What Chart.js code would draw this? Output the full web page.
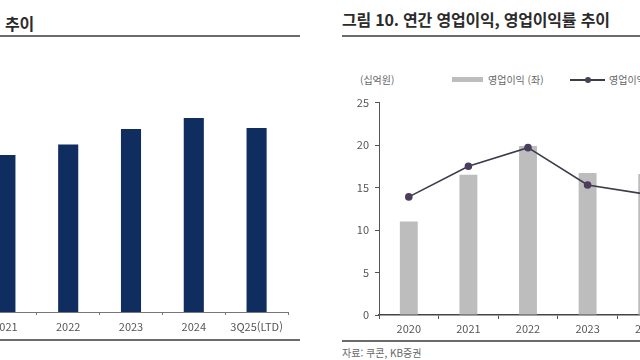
<!DOCTYPE html>
<html lang="ko">
<head>
<meta charset="UTF-8">
<title>영업이익 추이</title>
<script src="https://cdn.jsdelivr.net/npm/chart.js@4.4.0/dist/chart.umd.min.js"></script>
<style>
  body { margin: 0; width: 640px; height: 360px; overflow: hidden; background: #fff; position: relative;
         font-family: "Noto Sans CJK KR", "Noto Sans", sans-serif; }
  .abs { position: absolute; }
  .title { font-size: 16px; font-weight: bold; color: #2b2b2b; white-space: nowrap; letter-spacing: -0.2px; }
  .rule { height: 2px; background: #6b6b6b; }
  .small { font-size: 10px; color: #666; white-space: nowrap; }
</style>
</head>
<body>
<!-- left panel (cut off) -->
<div class="abs title" style="left:5px; top:11px;">추이</div>
<div class="abs rule" style="left:0; top:35px; width:300px;"></div>
<div class="abs" style="left:-52px; top:40px; width:352px; height:300px;"><canvas id="left"></canvas></div>
<div class="abs rule" style="left:0; top:339px; width:300px; height:1.5px;"></div>

<!-- right panel -->
<div class="abs title" style="left:342px; top:7px;">그림 10. 연간 영업이익, 영업이익률 추이</div>
<div class="abs rule" style="left:342px; top:35px; width:298px;"></div>
<div class="abs small" style="left:360px; top:72px;">(십억원)</div>
<div class="abs" style="left:452px; top:77px; width:31px; height:5px; background:#bdbdbd;"></div>
<div class="abs small" style="left:488px; top:72px;">영업이익 (좌)</div>
<div class="abs" style="left:570px; top:79px; width:35px; height:1.5px; background:#3c3c4c;"></div>
<div class="abs" style="left:585px; top:77px; width:6px; height:6px; border-radius:50%; background:#4b3d5c;"></div>
<div class="abs small" style="left:609px; top:72px;">영업이익률 (우)</div>
<div class="abs" style="left:330px; top:90px; width:400px; height:250px;"><canvas id="right"></canvas></div>
<div class="abs rule" style="left:342px; top:340px; width:298px; height:1.5px;"></div>
<div class="abs small" style="left:342px; top:345px;">자료: 쿠콘, KB증권</div>

<script>
// left panel: only the visible years, no axis shown in the crop
const leftYears = ['2021', '2022', '2023', '2024', '3Q25(LTD)'];
const leftValues = [74, 79, 86.3, 91.5, 86.8];

// right panel: 영업이익 (십억원) and 영업이익률
const years = ['2020', '2021', '2022', '2023', '2024'];
const opProfit = [11.0, 16.5, 19.9, 16.7, 16.6];
const opMargin = [13.9, 17.5, 19.7, 15.3, 14.2];
const yTicks = [0, 5, 10, 15, 20, 25];

const tickFont = { family: 'Noto Sans CJK KR', size: 11 };

new Chart(document.getElementById('left'), {
  type: 'bar',
  data: {
    labels: leftYears,
    datasets: [{ data: leftValues, backgroundColor: '#0f2d5e', barPercentage: 0.32, categoryPercentage: 1 }]
  },
  options: {
    responsive: true, maintainAspectRatio: false, animation: false,
    layout: { padding: { left: 26, right: 12, top: 60, bottom: 0 } },
    plugins: { legend: { display: false }, tooltip: { enabled: false } },
    scales: {
      x: {
        afterFit: s => { s.height = 28; },
        grid: { drawOnChartArea: false, offset: true, tickLength: 3, color: '#777' },
        border: { color: '#777', width: 1 },
        ticks: { color: '#555', font: tickFont, padding: 5 }
      },
      y: { display: false, min: 0, max: 100 }
    }
  }
});

new Chart(document.getElementById('right'), {
  data: {
    labels: years,
    datasets: [
      { type: 'line', data: opMargin, yAxisID: 'y1', borderColor: '#3c3c4c', borderWidth: 1.6,
        pointRadius: 3, pointBackgroundColor: '#4b3d5c', pointBorderColor: '#4b3d5c', tension: 0 },
      { type: 'bar', data: opProfit, yAxisID: 'y', backgroundColor: '#bdbdbd',
        barPercentage: 0.3, categoryPercentage: 1 }
    ]
  },
  options: {
    responsive: true, maintainAspectRatio: false, animation: false,
    layout: { padding: { left: 0, right: 53, top: 7.5, bottom: 0 } },
    plugins: { legend: { display: false }, tooltip: { enabled: false } },
    scales: {
      x: {
        afterFit: s => { s.height = 25; },
        grid: { drawOnChartArea: false, offset: true, tickLength: 4, color: '#555' },
        border: { color: '#444', width: 1.5 },
        ticks: { color: '#555', font: tickFont, padding: 3 }
      },
      y: {
        min: 0, max: 25,
        afterFit: s => { s.width = 49; },
        afterBuildTicks: s => { s.ticks = yTicks.map(v => ({ value: v })); },
        grid: { drawOnChartArea: false, tickLength: 4, color: '#555' },
        border: { color: '#555', width: 1 },
        ticks: { color: '#555', font: tickFont, padding: 6 }
      },
      y1: { display: false, position: 'right', min: 0, max: 25 }
    }
  }
});
</script>
</body>
</html>
